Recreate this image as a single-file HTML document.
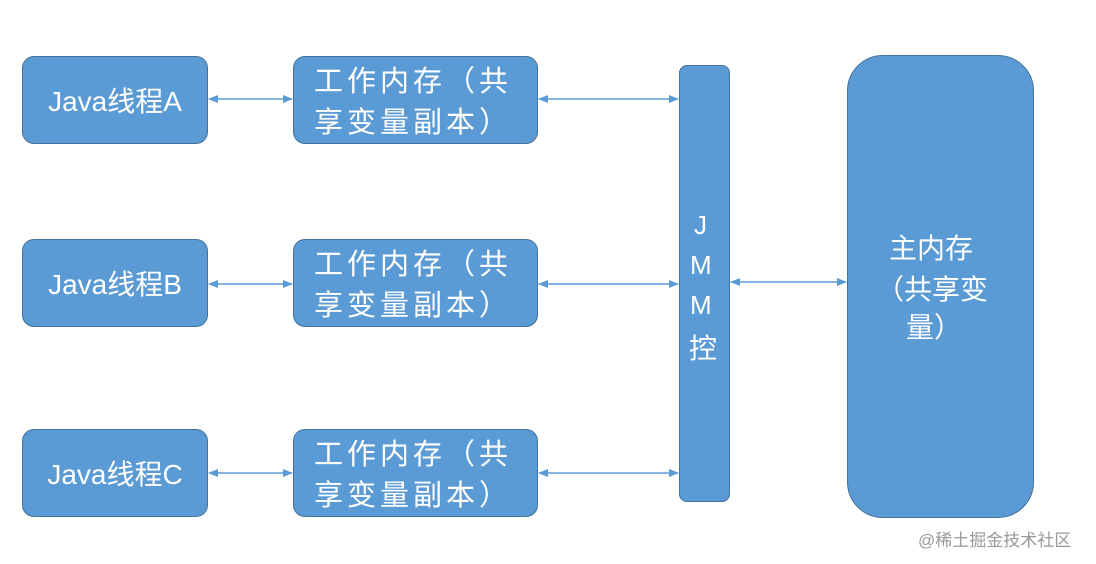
<!DOCTYPE html>
<html><head><meta charset="utf-8"><style>
body{margin:0;width:1096px;height:564px;background:#fff;position:relative;overflow:hidden;font-family:"Liberation Sans","Noto Sans CJK SC",sans-serif;}
.b{position:absolute;background:#5b9bd5;border:1.5px solid #41719c;box-sizing:border-box;color:#fff;}
.j{left:22px;width:186px;height:88px;border-radius:12px;font-size:28px;display:flex;align-items:center;justify-content:center;}
.w{left:293px;width:245px;height:88px;border-radius:12px;font-size:29px;line-height:41px;padding:5px 0 0 20px;letter-spacing:4px;white-space:nowrap;}
.t{position:absolute;color:#fff;font-size:26px;}
</style></head><body>
<div class="b j" style="top:56px">Java线程A</div>
<div class="b j" style="top:239px">Java线程B</div>
<div class="b j" style="top:429px">Java线程C</div>
<div class="b w" style="top:56px">工作内存（共<br>享变量副本）</div>
<div class="b w" style="top:239px">工作内存（共<br>享变量副本）</div>
<div class="b w" style="top:429px">工作内存（共<br>享变量副本）</div>
<div class="b" style="left:679px;top:65px;width:51px;height:437px;border-radius:8px"></div>
<div class="t" style="left:694px;top:210px;font-size:26px">J</div>
<div class="t" style="left:690px;top:250px;font-size:26px">M</div>
<div class="t" style="left:690px;top:290px;font-size:26px">M</div>
<div class="t" style="left:689px;top:327px;font-size:28px">控</div>
<div class="b" style="left:847px;top:55px;width:187px;height:463px;border-radius:36px"></div>
<div class="t" style="left:889px;top:230px;font-size:28px;line-height:38px">主内存</div>
<div class="t" style="left:876px;top:271px;font-size:28px;line-height:38px">（共享变</div>
<div class="t" style="left:906px;top:309px;font-size:28px;line-height:38px">量）</div>
<svg width="1096" height="564" style="position:absolute;left:0;top:0">
<defs><marker id="a" markerWidth="10" markerHeight="10" refX="9" refY="5" orient="auto-start-reverse" markerUnits="userSpaceOnUse"><path d="M0,1 L10,5 L0,9 Z" fill="#5b9bd5"/></marker></defs>
<g stroke="#5b9bd5" stroke-width="1.5" marker-start="url(#a)" marker-end="url(#a)">
<line x1="209" y1="99" x2="292" y2="99"/>
<line x1="209" y1="284" x2="292" y2="284"/>
<line x1="209" y1="473" x2="292" y2="473"/>
<line x1="539" y1="99" x2="678" y2="99"/>
<line x1="539" y1="284" x2="678" y2="284"/>
<line x1="539" y1="473" x2="678" y2="473"/>
<line x1="731" y1="282" x2="846" y2="282"/>
</g></svg>
<div style="position:absolute;left:918px;top:526px;font-size:17px;color:#999">@稀土掘金技术社区</div>
</body></html>
